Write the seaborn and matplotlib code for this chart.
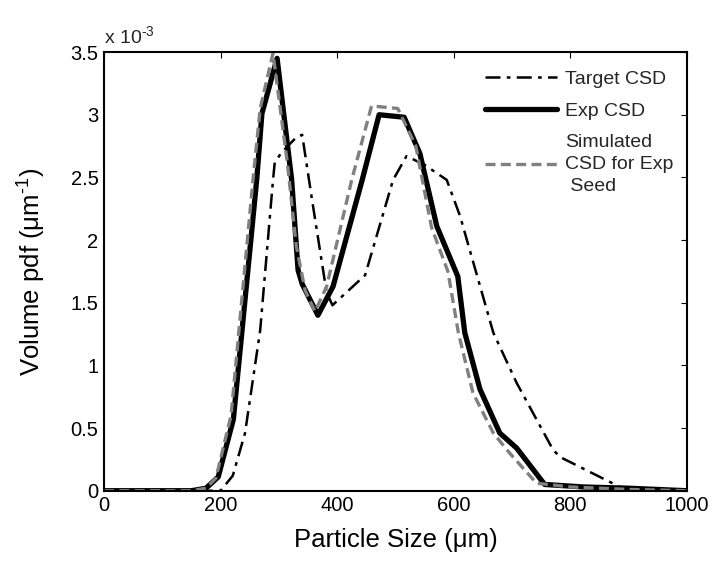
import matplotlib
matplotlib.use("Agg")
import matplotlib.pyplot as plt
import seaborn as sns
import pandas as pd

# Particle size (um) and volume pdf (x 1e-3 um^-1)
target_x = [0, 100, 150, 200, 221, 242, 268, 290, 293, 305, 330, 340, 357, 382, 392,
            448, 496, 519, 550, 588, 611, 668, 708, 770, 782, 885, 1000]
target_y = [0, 0, 0, 0, 0.12, 0.46, 1.28, 2.48, 2.62, 2.70, 2.82, 2.84, 2.32, 1.58, 1.48,
            1.72, 2.48, 2.67, 2.60, 2.48, 2.19, 1.26, 0.86, 0.33, 0.27, 0.03, 0.0]

exp_x = [0, 50, 100, 150, 175, 196, 222, 262, 271, 297, 322, 333, 340, 367, 393, 443,
         472, 515, 542, 571, 607, 619, 645, 679, 708, 756, 822, 900, 1000]
exp_y = [0, 0, 0, 0, 0.02, 0.11, 0.57, 2.48, 3.01, 3.45, 2.48, 1.76, 1.65, 1.40, 1.63, 2.48,
         3.00, 2.98, 2.69, 2.11, 1.71, 1.26, 0.81, 0.46, 0.34, 0.05, 0.03, 0.02, 0.0]

sim_x = [0, 50, 100, 150, 175, 192, 218, 255, 268, 290, 315, 330, 345, 362, 382, 425,
         459, 504, 535, 562, 590, 608, 633, 668, 696, 742, 800, 900, 1000]
sim_y = [0, 0, 0, 0, 0.02, 0.10, 0.60, 2.45, 3.05, 3.49, 2.60, 1.95, 1.60, 1.43, 1.63, 2.48,
         3.07, 3.05, 2.75, 2.10, 1.75, 1.26, 0.78, 0.46, 0.30, 0.06, 0.03, 0.01, 0.0]

series_labels = ["Target CSD", "Exp CSD", "Simulated\nCSD for Exp\n Seed"]
x_ticks = [0, 200, 400, 600, 800, 1000]
y_ticks = [0, 0.5, 1, 1.5, 2, 2.5, 3, 3.5]
y_tick_labels = ["0", "0.5", "1", "1.5", "2", "2.5", "3", "3.5"]

sns.set_theme(style="white")
plt.rcParams["font.family"] = ["Liberation Sans", "DejaVu Sans"]
plt.rcParams["mathtext.fontset"] = "custom"
plt.rcParams["mathtext.rm"] = "Liberation Sans"
plt.rcParams["mathtext.it"] = "Liberation Sans"
plt.rcParams["mathtext.default"] = "regular"

fig = plt.figure(figsize=(7.17, 5.66), dpi=100)
ax = fig.add_axes([0.145, 0.133, 0.813, 0.775])

df_t = pd.DataFrame({"x": target_x, "y": target_y})
df_e = pd.DataFrame({"x": exp_x, "y": exp_y})
df_s = pd.DataFrame({"x": sim_x, "y": sim_y})

sns.lineplot(data=df_t, x="x", y="y", ax=ax, color="black", lw=1.8,
             sort=False, estimator=None, label=series_labels[0])
ax.lines[-1].set_dashes([6, 2.5, 1.5, 2.5])
sns.lineplot(data=df_e, x="x", y="y", ax=ax, color="black", lw=3.8,
             sort=False, estimator=None, label=series_labels[1])
sns.lineplot(data=df_s, x="x", y="y", ax=ax, color="#808080", lw=2.4,
             sort=False, estimator=None, label=series_labels[2])
ax.lines[-1].set_dashes([3, 1.6])

ax.set_xlim(0, 1000)
ax.set_ylim(0, 3.5)
ax.set_xticks(x_ticks)
ax.set_yticks(y_ticks)
ax.set_xticklabels([str(t) for t in x_ticks])
ax.set_yticklabels(y_tick_labels)
ax.tick_params(direction="in", length=4, width=0.8, top=True, right=True,
               labelsize=14.5, colors="black", pad=4)
for s in ax.spines.values():
    s.set_visible(True)
    s.set_color("black")
    s.set_linewidth(1.5)

ax.set_xlabel("Particle Size (\u03bcm)", fontsize=18.5, color="black", labelpad=9)
ax.set_ylabel("Volume pdf (\u03bcm$^{\u2010 1}$)", fontsize=18.5, color="black", labelpad=16)
ax.text(0.0, 1.012, "x 10$^{\u2010 3}$", transform=ax.transAxes, fontsize=14,
        ha="left", va="bottom")

leg = ax.legend(loc="upper right", bbox_to_anchor=(1.0, 0.99), frameon=False,
                fontsize=14, handlelength=3.7, handletextpad=0.4,
                labelspacing=0.75, borderaxespad=0.3)
leg.get_texts()[2].set_linespacing(1.35)

fig.savefig("out.png", dpi=100)
